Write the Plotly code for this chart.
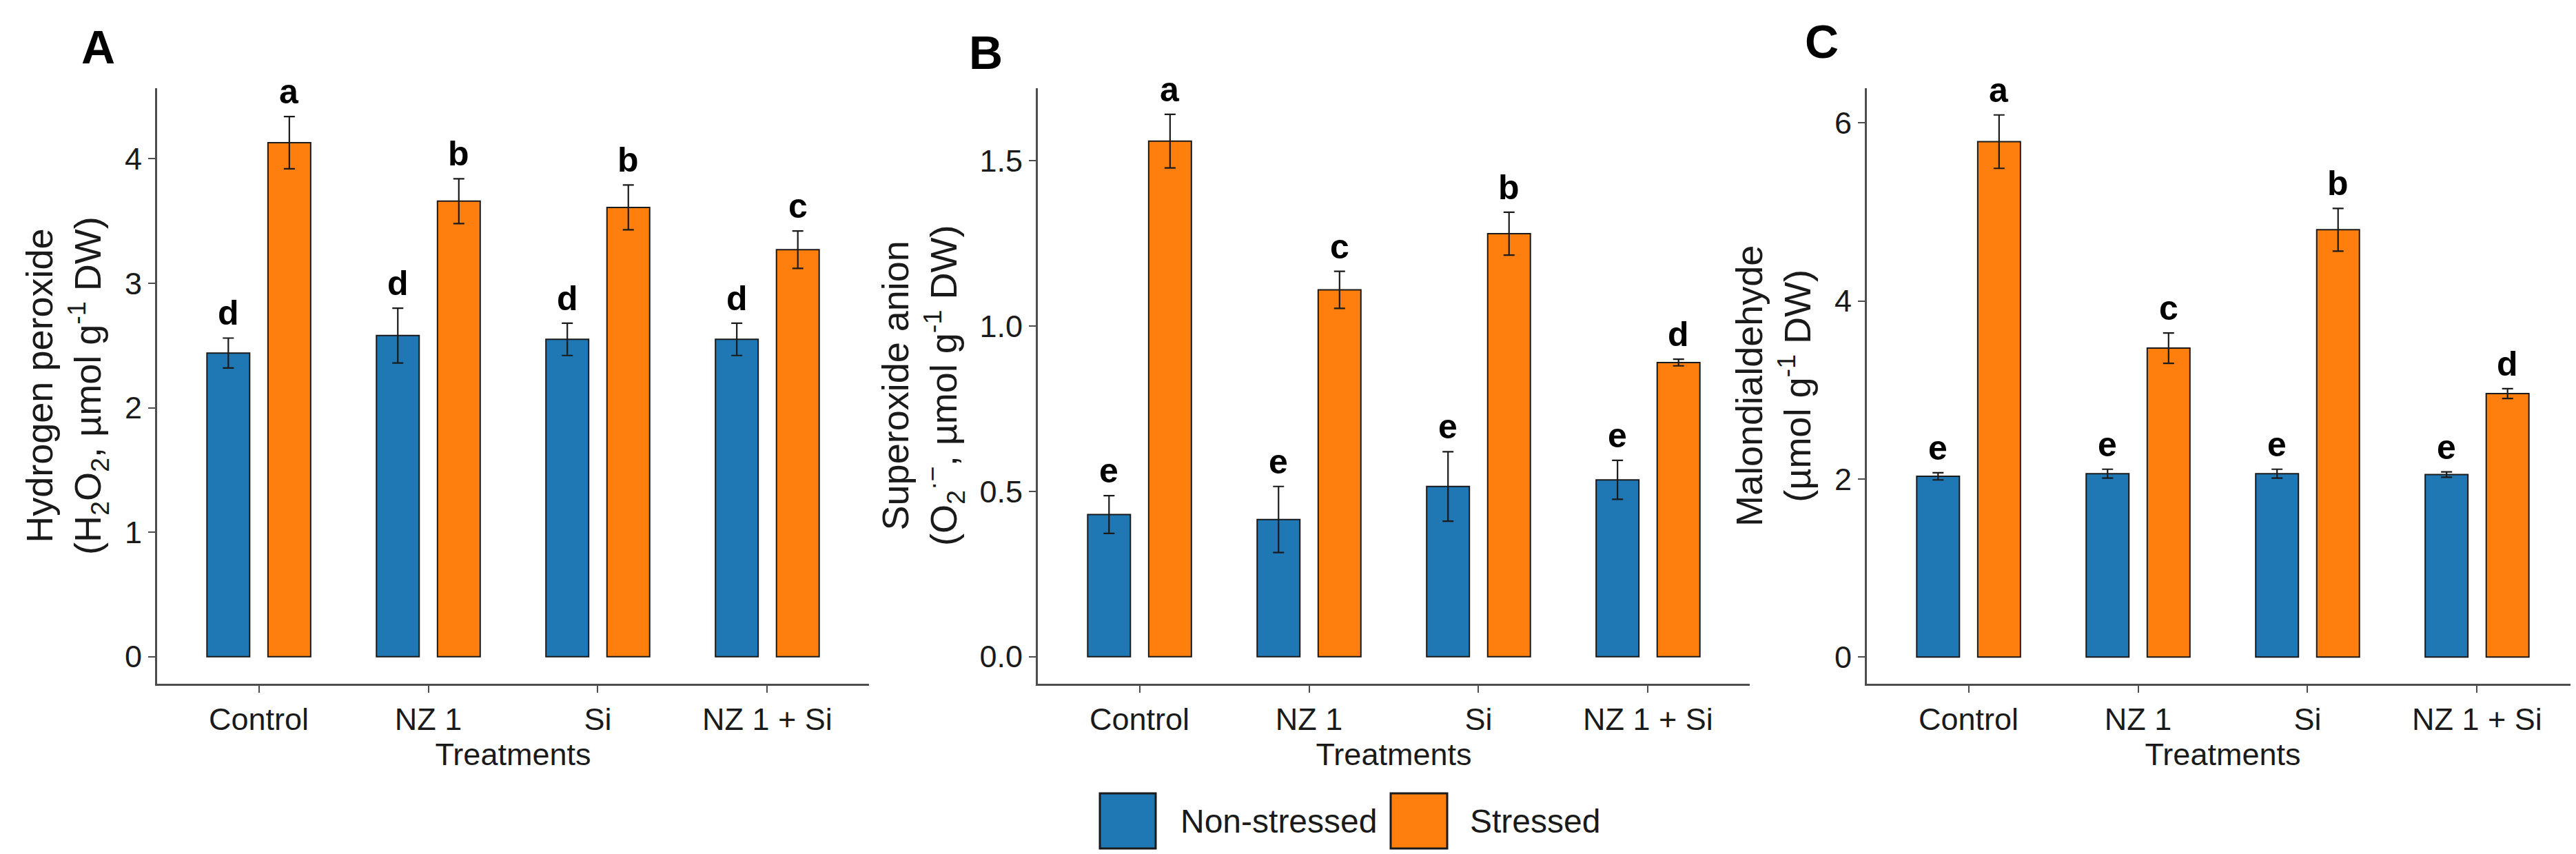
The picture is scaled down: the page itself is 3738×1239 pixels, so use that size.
import plotly.graph_objects as go

treatments = ["Control", "NZ 1", "Si", "NZ 1 + Si"]
groups = ["Non-stressed", "Stressed"]
colors = ["#1F77B4", "#FF7F0E"]

# hydrogen peroxide
h2o2_ns = [2.44, 2.58, 2.55, 2.55]
h2o2_ns_se = [0.12, 0.22, 0.13, 0.13]
h2o2_s = [4.13, 3.66, 3.61, 3.27]
h2o2_s_se = [0.21, 0.18, 0.18, 0.15]
h2o2_ns_let = ["d", "d", "d", "d"]
h2o2_s_let = ["a", "b", "b", "c"]

# superoxide anion
o2_ns = [0.43, 0.415, 0.515, 0.535]
o2_ns_se = [0.057, 0.10, 0.105, 0.059]
o2_s = [1.56, 1.11, 1.28, 0.89]
o2_s_se = [0.081, 0.056, 0.065, 0.01]
o2_ns_let = ["e", "e", "e", "e"]
o2_s_let = ["a", "c", "b", "d"]

# malondialdehyde
mda_ns = [2.03, 2.06, 2.06, 2.05]
mda_ns_se = [0.04, 0.05, 0.05, 0.03]
mda_s = [5.79, 3.47, 4.80, 2.96]
mda_s_se = [0.30, 0.17, 0.24, 0.055]
mda_ns_let = ["e", "e", "e", "e"]
mda_s_let = ["a", "c", "b", "d"]

W, H = 3738, 1239
FONT = "Liberation Sans, Arial, sans-serif"

panels = [
    dict(tag="A", ns=h2o2_ns, ns_se=h2o2_ns_se, s=h2o2_s, s_se=h2o2_s_se,
         ns_let=h2o2_ns_let, s_let=h2o2_s_let,
         ytitle="Hydrogen peroxide<br>(H<sub>2</sub>O<sub>2</sub>, µmol g<sup>-1</sup> DW)",
         yrange=[-0.2175, 4.5675], ticks=[0, 1, 2, 3, 4], fmt="d",
         px=(220, 1253), title_x=88, tag_xy=(134, 60)),
    dict(tag="B", ns=o2_ns, ns_se=o2_ns_se, s=o2_s, s_se=o2_s_se,
         ns_let=o2_ns_let, s_let=o2_s_let,
         ytitle="Superoxide anion<br>(O<sub>2</sub><sup>·−</sup>, µmol g<sup>-1</sup> DW)",
         yrange=[-0.082, 1.72], ticks=[0, 0.5, 1.0, 1.5], fmt=".1f",
         px=(1498, 2531), title_x=1330, tag_xy=(1422, 68)),
    dict(tag="C", ns=mda_ns, ns_se=mda_ns_se, s=mda_s, s_se=mda_s_se,
         ns_let=mda_ns_let, s_let=mda_s_let,
         ytitle="Malondialdehyde<br>(µmol g<sup>-1</sup> DW)",
         yrange=[-0.30, 6.39], ticks=[0, 2, 4, 6], fmt="d",
         px=(2701, 3734), title_x=2565, tag_xy=(2635, 52)),
]

ydom = [1 - 984 / H, 1 - 120 / H]

fig = go.Figure()
annotations = []
shapes = []

for i, p in enumerate(panels):
    n = "" if i == 0 else str(i + 1)
    xa, ya = "x" + n, "y" + n
    for g, vals, errs, col in [(groups[0], p["ns"], p["ns_se"], colors[0]),
                               (groups[1], p["s"], p["s_se"], colors[1])]:
        fig.add_trace(go.Bar(
            x=treatments, y=vals, name=g, xaxis=xa, yaxis=ya,
            marker=dict(color=col, line=dict(color="#1a1a1a", width=2)),
            error_y=dict(type="data", array=errs, color="#1a1a1a",
                         thickness=2.2, width=8),
            showlegend=False))

    axis_common = dict(showline=True, linecolor="#4d4d4d", linewidth=3,
                       ticks="outside", ticklen=10, tickwidth=2,
                       tickcolor="#4d4d4d", showgrid=False, zeroline=False,
                       tickfont=dict(family=FONT, size=45, color="#1a1a1a"))
    fig.layout["xaxis" + n] = dict(
        axis_common, domain=[p["px"][0] / W, p["px"][1] / W], anchor=ya,
        type="category", categoryorder="array", categoryarray=treatments,
        range=[-0.6, 3.6],
        title=dict(text="Treatments", standoff=10,
                   font=dict(family=FONT, size=45, color="#1a1a1a")))
    fig.layout["yaxis" + n] = dict(
        axis_common, domain=ydom, anchor=xa, range=p["yrange"],
        tickvals=p["ticks"], tickformat=p["fmt"])

    # letters above error bars
    unit_px = (p["px"][1] - p["px"][0]) / 4.2
    for k, t in enumerate(treatments):
        for vals, errs, lets, sgn in [(p["ns"], p["ns_se"], p["ns_let"], -1),
                                      (p["s"], p["s_se"], p["s_let"], 1)]:
            annotations.append(dict(
                x=t, y=vals[k] + errs[k], xref=xa, yref=ya,
                text="<b>" + lets[k] + "</b>", showarrow=False,
                xshift=sgn * 0.18 * unit_px, yanchor="bottom", yshift=6,
                font=dict(family=FONT, size=50, color="black")))

    # y title
    annotations.append(dict(
        x=p["title_x"] / W, y=(ydom[0] + ydom[1]) / 2, xref="paper",
        yref="paper", text=p["ytitle"], textangle=-90, showarrow=False,
        xanchor="center", yanchor="middle",
        font=dict(family=FONT, size=54, color="#1a1a1a")))

    # panel tag
    annotations.append(dict(
        x=p["tag_xy"][0] / W, y=1 - p["tag_xy"][1] / H, xref="paper",
        yref="paper", text="<b>" + p["tag"] + "</b>", showarrow=False,
        xanchor="center", yanchor="middle",
        font=dict(family=FONT, size=68, color="black")))

# legend drawn by hand so the keys get the big ggplot boxes
legend_keys = [(1588, 1669, 1703), (2010, 2092, 2123)]
for (x0, x1, tx), g, col in zip(legend_keys, groups, colors):
    shapes.append(dict(type="rect", xref="paper", yref="paper",
                       x0=x0 / W, x1=x1 / W, y0=1 - 1223 / H, y1=1 - 1143 / H,
                       fillcolor=col, line=dict(color="#1a1a1a", width=3)))
    annotations.append(dict(
        x=tx / W, y=1 - 1183 / H, xref="paper", yref="paper", text=g,
        showarrow=False, xanchor="left", yanchor="middle",
        font=dict(family=FONT, size=48, color="#1a1a1a")))

fig.update_layout(
    width=W, height=H,
    margin=dict(l=0, r=0, t=0, b=0),
    paper_bgcolor="white", plot_bgcolor="white",
    barmode="group", bargap=0.28, bargroupgap=0.3,
    annotations=annotations, shapes=shapes,
    font=dict(family=FONT))

fig.write_html("out.html")
